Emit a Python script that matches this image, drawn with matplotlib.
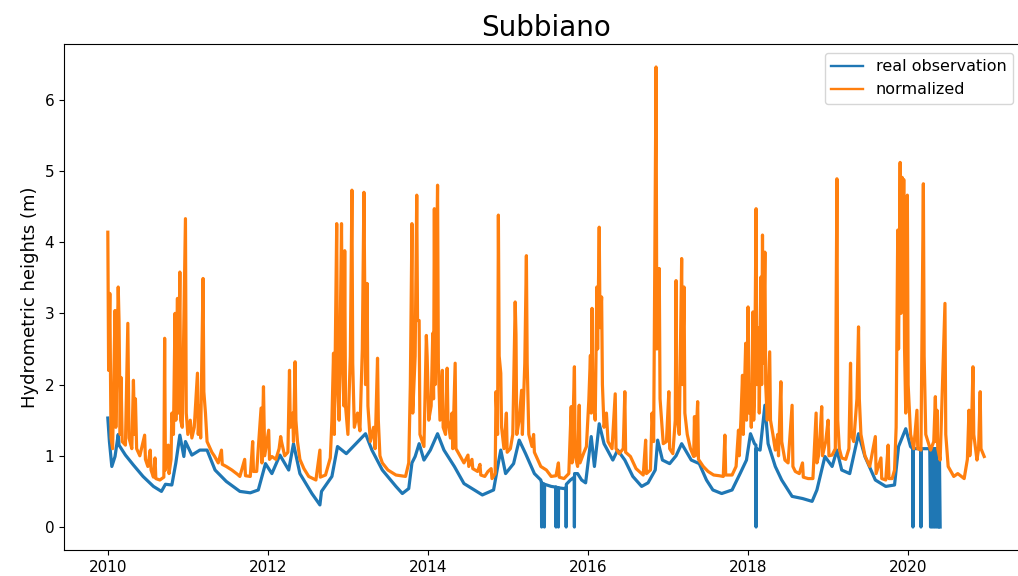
"""
Subbiano station: hydrometric heights, real observation vs normalized series.
Values read off the reference picture (decimal years, metres).
"""
import matplotlib
matplotlib.use('Agg')
import matplotlib.pyplot as plt

# orange series: normalized heights (peaks + baseline, decimal years)
norm_years = [
    # 2010
    2010.00, 2010.01, 2010.025, 2010.04, 2010.06, 2010.09, 2010.10, 2010.13, 2010.14, 2010.155,
    2010.165, 2010.18, 2010.22, 2010.25, 2010.265, 2010.30, 2010.32, 2010.335, 2010.345, 2010.36,
    2010.40, 2010.46, 2010.47, 2010.50, 2010.53, 2010.54, 2010.57, 2010.59, 2010.60, 2010.65,
    2010.70, 2010.71, 2010.72, 2010.755, 2010.765, 2010.79, 2010.80, 2010.82, 2010.84, 2010.85,
    2010.87, 2010.88, 2010.90, 2010.91, 2010.93, 2010.97, 2010.98,
    # 2011
    2011.00, 2011.03, 2011.05, 2011.08, 2011.12, 2011.13, 2011.15, 2011.16, 2011.19, 2011.20,
    2011.22, 2011.24, 2011.30, 2011.33, 2011.38, 2011.42, 2011.43, 2011.48, 2011.55, 2011.62,
    2011.65, 2011.71, 2011.72, 2011.78, 2011.81, 2011.82, 2011.86, 2011.915, 2011.925, 2011.945,
    2011.96,
    # 2012
    2012.01, 2012.02, 2012.05, 2012.10, 2012.14, 2012.16, 2012.17, 2012.21, 2012.25, 2012.27,
    2012.28, 2012.31, 2012.32, 2012.34, 2012.35, 2012.37, 2012.40, 2012.45, 2012.51, 2012.60,
    2012.65, 2012.655, 2012.72, 2012.78, 2012.80, 2012.82, 2012.83, 2012.86, 2012.87, 2012.89,
    2012.92, 2012.93, 2012.95, 2012.96, 2012.97,
    # 2013
    2013.00, 2013.03, 2013.05, 2013.06, 2013.08, 2013.12, 2013.15, 2013.18, 2013.20, 2013.22,
    2013.24, 2013.25, 2013.28, 2013.32, 2013.34, 2013.37, 2013.38, 2013.40, 2013.43, 2013.50,
    2013.60, 2013.72, 2013.76, 2013.78, 2013.80, 2013.81, 2013.84, 2013.86, 2013.87, 2013.89,
    2013.90, 2013.95, 2013.98, 2013.99,
    # 2014
    2014.01, 2014.04, 2014.06, 2014.07, 2014.08, 2014.09, 2014.12, 2014.13, 2014.15, 2014.18,
    2014.19, 2014.22, 2014.24, 2014.25, 2014.28, 2014.30, 2014.31, 2014.34, 2014.35, 2014.40,
    2014.45, 2014.50, 2014.51, 2014.55, 2014.56, 2014.62, 2014.65, 2014.66, 2014.71, 2014.75,
    2014.79, 2014.80, 2014.84, 2014.85, 2014.87, 2014.88, 2014.89, 2014.91, 2014.92, 2014.95,
    2014.98, 2014.99,
    # 2015
    2015.03, 2015.06, 2015.09, 2015.10, 2015.11, 2015.14, 2015.17, 2015.18, 2015.21, 2015.23,
    2015.24, 2015.26, 2015.30, 2015.32, 2015.33, 2015.37, 2015.41, 2015.48, 2015.54, 2015.60,
    2015.63, 2015.64, 2015.70, 2015.76, 2015.79, 2015.80, 2015.83, 2015.84, 2015.87, 2015.89,
    2015.90, 2015.95, 2015.98,
    # 2016
    2016.01, 2016.03, 2016.04, 2016.05, 2016.06, 2016.09, 2016.11, 2016.12, 2016.14, 2016.15,
    2016.17, 2016.18, 2016.20, 2016.23, 2016.25, 2016.30, 2016.34, 2016.35, 2016.39, 2016.44,
    2016.46, 2016.47, 2016.53, 2016.60, 2016.69, 2016.72, 2016.73, 2016.78, 2016.80, 2016.82,
    2016.85, 2016.86, 2016.89, 2016.90, 2016.94, 2016.98,
    # 2017
    2017.01, 2017.02, 2017.06, 2017.09, 2017.10, 2017.11, 2017.14, 2017.17, 2017.18, 2017.20,
    2017.21, 2017.24, 2017.28, 2017.32, 2017.33, 2017.34, 2017.37, 2017.38, 2017.44, 2017.50,
    2017.57, 2017.64, 2017.69, 2017.71, 2017.72, 2017.80, 2017.85, 2017.88, 2017.89, 2017.91,
    2017.93, 2017.94, 2017.97, 2017.98,
    # 2018
    2018.00, 2018.01, 2018.03, 2018.04, 2018.06, 2018.07, 2018.08, 2018.10, 2018.11, 2018.13,
    2018.14, 2018.16, 2018.17, 2018.18, 2018.19, 2018.21, 2018.22, 2018.24, 2018.27, 2018.28,
    2018.31, 2018.34, 2018.37, 2018.38, 2018.41, 2018.42, 2018.46, 2018.50, 2018.55, 2018.56,
    2018.59, 2018.64, 2018.68, 2018.69, 2018.75, 2018.81, 2018.85, 2018.86, 2018.88, 2018.90,
    2018.92, 2018.93, 2018.97,
    # 2019
    2019.00, 2019.01, 2019.05, 2019.09, 2019.11, 2019.12, 2019.14, 2019.17, 2019.22, 2019.26,
    2019.28, 2019.29, 2019.32, 2019.36, 2019.38, 2019.39, 2019.41, 2019.46, 2019.52, 2019.59,
    2019.60, 2019.66, 2019.67, 2019.72, 2019.75, 2019.76, 2019.80, 2019.83, 2019.85, 2019.87,
    2019.88, 2019.90, 2019.91, 2019.925, 2019.935, 2019.945, 2019.955, 2019.97, 2019.99,
    # 2020
    2020.00, 2020.03, 2020.07, 2020.11, 2020.12, 2020.16, 2020.19, 2020.20, 2020.22, 2020.28,
    2020.32, 2020.34, 2020.35, 2020.36, 2020.37, 2020.40, 2020.46, 2020.47, 2020.50, 2020.57,
    2020.62, 2020.70, 2020.74, 2020.76, 2020.77, 2020.79, 2020.81, 2020.82, 2020.86, 2020.88,
    2020.90, 2020.91, 2020.95,
]
norm_heights = [
    # 2010
    4.14, 2.20, 3.28, 1.25, 1.10, 3.04, 1.40, 3.37, 2.90, 1.30,
    2.10, 1.20, 1.15, 2.86, 1.25, 1.10, 2.06, 1.30, 1.80, 1.10,
    1.00, 1.29, 0.95, 0.85, 1.08, 0.80, 0.70, 0.97, 0.68, 0.66,
    0.70, 2.65, 0.80, 1.15, 0.75, 0.95, 1.60, 1.30, 3.00, 1.50,
    3.21, 1.60, 3.58, 1.50, 1.40, 4.33, 1.60,
    # 2011
    1.30, 1.50, 1.25, 1.40, 2.16, 1.30, 1.70, 1.25, 3.49, 1.90,
    1.60, 1.20, 1.05, 1.00, 0.90, 1.08, 0.88, 0.85, 0.80, 0.74,
    0.71, 0.95, 0.72, 0.71, 1.20, 0.78, 0.78, 1.67, 0.90, 1.97,
    1.00,
    # 2012
    1.36, 0.95, 0.99, 0.95, 1.10, 1.27, 1.20, 1.00, 1.05, 2.20,
    1.40, 1.60, 1.20, 2.32, 1.50, 1.20, 0.95, 0.82, 0.71, 0.66,
    1.08, 0.70, 0.73, 0.97, 1.50, 2.44, 1.30, 4.26, 2.00, 1.50,
    4.26, 2.40, 1.70, 3.88, 1.70,
    # 2013
    1.30, 2.40, 4.73, 2.30, 1.40, 1.60, 1.35, 2.50, 4.70, 2.00,
    3.42, 1.70, 1.20, 1.40, 1.10, 2.37, 1.50, 1.00, 0.90, 0.80,
    0.73, 0.71, 0.90, 2.00, 4.26, 1.60, 2.40, 4.66, 2.90, 2.90,
    1.30, 1.13, 2.69, 2.40,
    # 2014
    1.50, 1.70, 2.72, 1.80, 4.47, 2.00, 4.80, 2.30, 1.50, 2.20,
    1.40, 1.30, 2.23, 1.50, 1.25, 1.60, 1.10, 2.30, 1.10, 1.00,
    0.90, 1.01, 0.85, 0.95, 0.82, 0.78, 0.88, 0.73, 0.71, 0.78,
    0.82, 0.68, 0.75, 1.90, 1.30, 4.38, 2.40, 2.16, 1.40, 1.10,
    1.60, 1.05,
    # 2015
    1.10, 1.30, 3.16, 2.70, 1.30, 1.50, 1.92, 1.30, 2.30, 3.81,
    2.30, 1.30, 1.13, 1.30, 1.05, 0.95, 0.85, 0.80, 0.71, 0.72,
    0.90, 0.70, 0.68, 0.75, 1.69, 0.90, 2.25, 1.00, 0.85, 1.71,
    0.90, 1.05, 1.13,
    # 2016
    1.78, 2.41, 1.60, 3.07, 1.80, 1.50, 3.37, 2.50, 4.21, 2.80,
    3.23, 2.00, 1.40, 1.60, 1.20, 1.10, 1.87, 1.10, 1.03, 1.10,
    1.90, 1.05, 0.99, 0.82, 0.73, 1.22, 0.75, 0.80, 1.60, 1.20,
    6.46, 2.50, 3.63, 1.80, 1.17, 1.20,
    # 2017
    1.90, 1.10, 1.03, 1.50, 3.46, 1.60, 1.30, 3.77, 2.00, 3.37,
    1.60, 1.30, 1.10, 0.99, 1.55, 1.00, 1.76, 0.95, 0.85, 0.78,
    0.73, 0.72, 0.71, 1.29, 0.73, 0.73, 0.85, 1.36, 1.00, 1.50,
    2.13, 1.30, 2.58, 1.50,
    # 2018
    3.09, 1.60, 2.00, 1.40, 3.02, 1.50, 1.80, 4.47, 2.00, 2.80,
    1.60, 3.51, 2.00, 4.10, 2.30, 3.86, 2.00, 1.50, 2.46, 1.50,
    1.30, 1.08, 1.30, 1.00, 2.04, 1.20, 0.94, 0.90, 1.71, 0.85,
    0.78, 0.75, 0.90, 0.70, 0.68, 0.68, 1.60, 0.90, 1.00, 1.30,
    1.69, 1.00, 1.20,
    # 2019
    1.50, 1.00, 1.01, 1.10, 4.89, 1.50, 1.10, 0.97, 0.95, 1.10,
    2.30, 1.30, 1.20, 1.80, 2.81, 1.80, 1.30, 1.00, 0.85, 1.27,
    0.75, 0.97, 0.68, 0.66, 1.15, 0.68, 0.68, 0.80, 1.40, 4.17,
    2.50, 5.12, 3.00, 4.91, 3.50, 4.88, 2.50, 1.60, 4.66,
    # 2020
    2.00, 1.30, 1.10, 1.64, 1.10, 1.08, 4.82, 2.40, 1.30, 1.08,
    1.20, 1.83, 1.20, 1.64, 1.10, 0.94, 3.14, 1.30, 0.85, 0.71,
    0.75, 0.68, 0.95, 1.64, 1.00, 1.30, 2.25, 1.30, 0.94, 1.10,
    1.90, 1.10, 0.99,
]

# blue series: real observation (baseline, small bumps, zero readings)
obs_years = [
    2010.00, 2010.02, 2010.05, 2010.09, 2010.13, 2010.14, 2010.22, 2010.32, 2010.44, 2010.57,
    2010.67, 2010.72, 2010.80, 2010.85, 2010.90, 2010.95, 2010.97, 2011.05, 2011.15, 2011.24,
    2011.34, 2011.48, 2011.65, 2011.78, 2011.88, 2011.97, 2012.05, 2012.15, 2012.26, 2012.32,
    2012.40, 2012.55, 2012.65, 2012.67, 2012.80, 2012.87, 2012.98, 2013.10, 2013.22, 2013.30,
    2013.43, 2013.60, 2013.68, 2013.76, 2013.80, 2013.84, 2013.89, 2013.95, 2014.03, 2014.12,
    2014.20, 2014.33, 2014.45, 2014.58, 2014.68, 2014.82, 2014.88, 2014.91, 2014.97, 2015.07,
    2015.14, 2015.22, 2015.33, 2015.41,
    2015.418, 2015.42, 2015.422, 2015.453, 2015.455, 2015.457, 2015.54, 2015.598, 2015.60, 2015.602,
    2015.628, 2015.63, 2015.632, 2015.70, 2015.725, 2015.727, 2015.729, 2015.78, 2015.828, 2015.83,
    2015.832, 2015.87, 2015.92, 2015.97, 2016.04, 2016.08, 2016.14, 2016.20, 2016.31, 2016.37,
    2016.46, 2016.56, 2016.67, 2016.75, 2016.84, 2016.87, 2016.93, 2017.02, 2017.10, 2017.17,
    2017.29, 2017.39, 2017.48, 2017.56, 2017.67, 2017.80, 2017.90, 2017.98, 2018.03, 2018.08,
    2018.098, 2018.10, 2018.102, 2018.15, 2018.21, 2018.25, 2018.34, 2018.42, 2018.55, 2018.68,
    2018.80, 2018.86, 2018.96, 2019.05, 2019.11, 2019.17, 2019.27, 2019.38, 2019.46, 2019.59,
    2019.72, 2019.83, 2019.88, 2019.97, 2020.03, 2020.058, 2020.06, 2020.062, 2020.10, 2020.158,
    2020.16, 2020.162, 2020.27, 2020.28, 2020.29, 2020.30, 2020.31, 2020.32, 2020.33, 2020.34,
    2020.35, 2020.36, 2020.37, 2020.38, 2020.39, 2020.40,
]
obs_heights = [
    1.53, 1.20, 0.85, 0.99, 1.30, 1.15, 1.01, 0.87, 0.71, 0.57,
    0.50, 0.60, 0.59, 0.90, 1.29, 0.99, 1.20, 1.01, 1.08, 1.08,
    0.80, 0.64, 0.50, 0.48, 0.52, 0.89, 0.75, 1.01, 0.80, 1.17,
    0.75, 0.47, 0.31, 0.50, 0.71, 1.13, 1.03, 1.17, 1.31, 1.08,
    0.80, 0.57, 0.47, 0.54, 0.90, 0.99, 1.17, 0.94, 1.08, 1.31,
    1.08, 0.85, 0.61, 0.52, 0.45, 0.52, 0.90, 1.08, 0.75, 0.89,
    1.22, 1.03, 0.75, 0.66,
    0.62, 0.00, 0.62, 0.60, 0.00, 0.60, 0.57, 0.56, 0.00, 0.56,
    0.55, 0.00, 0.55, 0.54, 0.55, 0.00, 0.60, 0.66, 0.70, 0.00,
    0.75, 0.75, 0.66, 0.62, 1.27, 0.85, 1.45, 1.17, 0.94, 1.08,
    0.94, 0.71, 0.57, 0.62, 0.80, 1.22, 0.94, 0.89, 1.00, 1.17,
    0.94, 0.89, 0.66, 0.52, 0.47, 0.52, 0.75, 0.94, 1.31, 1.17,
    1.15, 0.00, 1.10, 1.08, 1.71, 1.17, 0.85, 0.66, 0.43, 0.40,
    0.36, 0.52, 0.99, 0.85, 1.08, 0.80, 0.75, 1.31, 0.99, 0.66,
    0.57, 0.59, 1.13, 1.38, 1.13, 1.10, 0.00, 1.10, 1.10, 1.10,
    0.00, 1.10, 1.10, 0.00, 1.10, 0.00, 1.10, 0.00, 1.10, 0.00,
    1.10, 0.00, 1.10, 0.00, 1.10, 0.00,
]

year_ticks = [2010, 2012, 2014, 2016, 2018, 2020]

fig = plt.figure(figsize=(10.18, 5.76), dpi=100)
# the source screenshot is cropped on the right, so the axes run past the figure edge
ax = fig.add_axes([64 / 1018, 26 / 576, 964 / 1018, 506 / 576])

ax.plot(obs_years, obs_heights, color='#1f77b4', linewidth=2.3, label='real observation')
ax.plot(norm_years, norm_heights, color='#ff7f0e', linewidth=2.3, label='normalized')

ax.set_xticks(year_ticks)
ax.set_xticklabels([str(y) for y in year_ticks])
ax.tick_params(labelsize=11)
ax.set_ylabel('Hydrometric heights (m)', fontsize=13)
ax.set_title('Subbiano', fontsize=20)

leg = ax.legend(loc='upper right', bbox_to_anchor=(1013 / 1018, 1 - 53 / 576),
                bbox_transform=fig.transFigure, borderaxespad=0, fontsize=11.5)
for line in leg.get_lines():
    line.set_linewidth(1.7)

fig.savefig('out.png', dpi=100)
